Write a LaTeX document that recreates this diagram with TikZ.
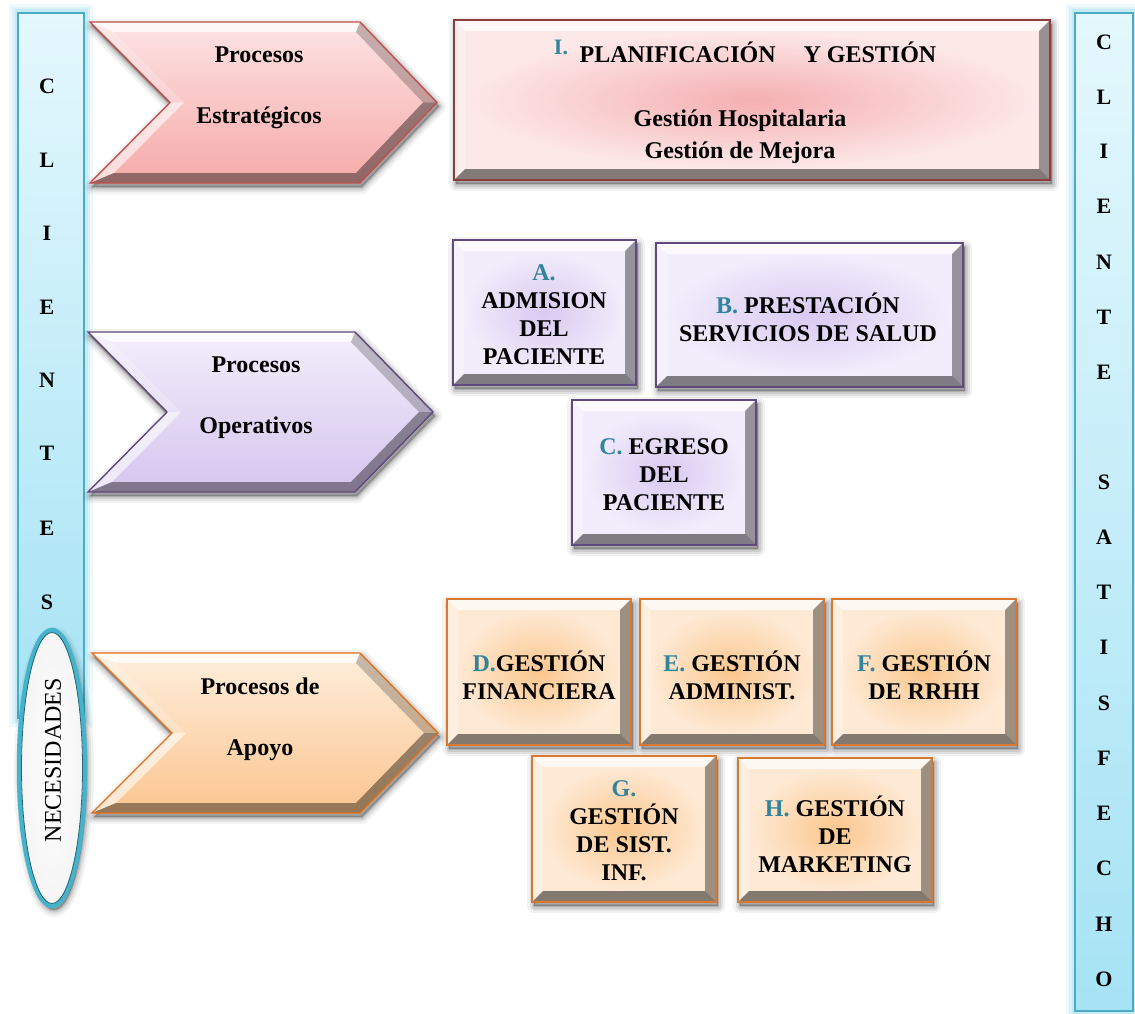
\documentclass[tikz,border=0pt]{standalone}
\usepackage{fontspec}
\setmainfont{Liberation Serif}

% palettes
\definecolor{pinkTop}{HTML}{FDE3E3}
\definecolor{pinkBot}{HTML}{F6AAAA}
\definecolor{pinkEdge}{HTML}{C0504D}
\definecolor{roseIn}{HTML}{F5AFB2}
\definecolor{roseOut}{HTML}{FDE8E8}
\definecolor{roseEdge}{HTML}{8E3B3B}
\definecolor{lilaTop}{HTML}{F3EEFB}
\definecolor{lilaBot}{HTML}{D5C5EE}
\definecolor{lilaEdge}{HTML}{5F497A}
\definecolor{violIn}{HTML}{D9C9F2}
\definecolor{violOut}{HTML}{F2EDFB}
\definecolor{violEdge}{HTML}{5E4A7E}
\definecolor{apriTop}{HTML}{FEEEDC}
\definecolor{apriBot}{HTML}{FBC58F}
\definecolor{apriEdge}{HTML}{E3701A}
\definecolor{peachIn}{HTML}{FBC78E}
\definecolor{peachOut}{HTML}{FEE9D4}
\definecolor{peachEdge}{HTML}{D9782E}
\definecolor{barTop}{HTML}{E4F8FD}
\definecolor{barBot}{HTML}{A6E3F5}
\definecolor{barEdge}{HTML}{4BACC6}
\definecolor{barGlow}{HTML}{7FD3EA}
\definecolor{ltrTeal}{HTML}{31849B}
\definecolor{ringDark}{HTML}{2A6474}

\newcommand\bx{\fontsize{24}{28}\selectfont\bfseries}
\newcommand\lt[1]{\textcolor{ltrTeal}{#1}}

% soft drop shadow: stacked translucent strokes under a shifted copy of the outline
\tikzset{
  shadowlayer/.style={black, line join=round, shift={(2,4)}},
}
\newcommand\softshadow[1]{%
  \foreach \w/\o in {14/0.05, 9/0.07, 5/0.09, 2/0.12}
    \draw[shadowlayer, line width=\w pt, opacity=\o] #1;
  \fill[shadowlayer, opacity=0.25] #1;
}

% beveled rectangle: x1 y1 x2 y2 palette
\newcommand\bevbox[5]{%
  \softshadow{(#1,#2) rectangle (#3,#4)}
  \fill[#5Out] (#1,#2) rectangle (#3,#4);
  \shade[inner color=#5In, outer color=#5Out] ({#1+11},{#2+11}) rectangle ({#3-11},{#4-11});
  \fill[white, opacity=.7] (#1,#2) -- (#3,#2) -- ({#3-11},{#2+11}) -- ({#1+11},{#2+11}) -- cycle;
  \fill[white, opacity=.3] (#1,#2) -- ({#1+11},{#2+11}) -- ({#1+11},{#4-11}) -- (#1,#4) -- cycle;
  \fill[black, opacity=.38] (#3,#2) -- (#3,#4) -- ({#3-11},{#4-11}) -- ({#3-11},{#2+11}) -- cycle;
  \fill[black, opacity=.48] (#1,#4) -- (#3,#4) -- ({#3-11},{#4-11}) -- ({#1+11},{#4-11}) -- cycle;
  \draw[#5Edge, line width=1.4pt] (#1,#2) rectangle (#3,#4);
}

% beveled chevron: left x, top y, shoulder x, tip x, bottom y, notch x, palette
\newcommand\chev[7]{%
  \pgfmathsetmacro\ym{(#2+#5)/2}
  \softshadow{(#1,#2) -- (#3,#2) -- (#4,\ym) -- (#3,#5) -- (#1,#5) -- (#6,\ym) -- cycle}
  \shade[top color=#7Top, bottom color=#7Bot]
    (#1,#2) -- (#3,#2) -- (#4,\ym) -- (#3,#5) -- (#1,#5) -- (#6,\ym) -- cycle;
  \fill[white, opacity=.75] (#1,#2) -- (#3,#2) -- ({#3-4},{#2+10}) -- ({#1+24},{#2+10}) -- cycle;
  \fill[white, opacity=.2] (#1,#2) -- ({#1+24},{#2+10}) -- ({#6+14},\ym) -- (#6,\ym) -- cycle;
  \fill[white, opacity=.6] (#6,\ym) -- ({#6+14},\ym) -- ({#1+24},{#5-10}) -- (#1,#5) -- cycle;
  \fill[black, opacity=.22] (#3,#2) -- (#4,\ym) -- ({#4-14},\ym) -- ({#3-4},{#2+10}) -- cycle;
  \fill[black, opacity=.4] (#4,\ym) -- (#3,#5) -- ({#3-4},{#5-10}) -- ({#4-14},\ym) -- cycle;
  \fill[black, opacity=.4] (#1,#5) -- (#3,#5) -- ({#3-4},{#5-10}) -- ({#1+24},{#5-10}) -- cycle;
  \draw[#7Edge, line width=1.4pt, line join=miter]
    (#1,#2) -- (#3,#2) -- (#4,\ym) -- (#3,#5) -- (#1,#5) -- (#6,\ym) -- cycle;
}

% glowing side bar: x1 y1 x2 y2
\newcommand\sidebar[4]{%
  \foreach \w/\o in {18/0.12, 12/0.16, 7/0.22}
    \draw[barGlow, line width=\w pt, opacity=\o] (#1,#2) rectangle (#3,#4);
  \shade[top color=barTop, bottom color=barBot] (#1,#2) rectangle (#3,#4);
  \draw[barEdge, line width=1.5pt] (#1,#2) rectangle (#3,#4);
}

\begin{document}
\begin{tikzpicture}[x=1pt, y=-1pt,
  txt/.style={inner sep=0pt, align=center, font=\bx, text=black},
  barletter/.style={inner sep=0pt, font=\fontsize{22}{24}\selectfont\bfseries},
  chevtxt/.style={inner sep=0pt, align=center, font=\fontsize{24}{61}\selectfont\bfseries}]

\fill[white] (0,0) rectangle (1135,1014);
\useasboundingbox (0,0) rectangle (1135,1014);

% side bars
\sidebar{18}{13}{84}{718}
\sidebar{1075}{13}{1133}{1011}

\foreach \ch/\yy [count=\i] in {C/86, L/160, I/233, E/307, N/380, T/453, E/528, S/602}
  \node[barletter] (left\i) at (47,\yy) {\ch};

\foreach \ch/\yy [count=\i] in {C/42, L/97, I/151, E/206, N/262, T/317, E/372,
    S/482, A/537, T/592, I/647, S/703, F/758, E/813, C/868, H/924, O/979}
  \node[barletter] (right\i) at (1104,\yy) {\ch};

% needs ellipse
\softshadow{(52,768) ellipse [x radius=33, y radius=138]}
\shade[inner color=white, outer color=gray!8]
  (52,768) ellipse [x radius=33, y radius=138];
\draw[barEdge!90!cyan, line width=4.5pt] (52,768) ellipse [x radius=33, y radius=138];
\draw[ringDark, line width=0.8pt] (52,768) ellipse [x radius=30.5, y radius=135.5];
\node[inner sep=0pt, rotate=90, font=\fontsize{24}{28}\selectfont] (needs) at (53,760) {NECESIDADES};

% process chevrons
\chev{90}{22}{360}{437}{183}{170}{pink}
\node[chevtxt] (strat) at (259,88) {Procesos\\Estratégicos};

\chev{88}{332}{355}{433}{492}{167}{lila}
\node[chevtxt] (oper) at (256,398) {Procesos\\Operativos};

\chev{92}{653}{360}{438}{813}{172}{apri}
\node[chevtxt] (apoyo) at (260,719) {Procesos de\\Apoyo};

% strategic block
\bevbox{454}{20}{1050}{180}{rose}
\node[inner sep=0pt, font=\fontsize{22}{24}\selectfont\bfseries, text=ltrTeal] (pI) at (561,47) {I.};
\node[txt] (plan) at (758,52) {PLANIFICACIÓN\hspace{28pt}Y GESTIÓN};
\node[txt, font=\fontsize{24}{32}\selectfont\bfseries] (gest) at (740,137) {Gestión Hospitalaria\\Gestión de Mejora};

% operative blocks
\bevbox{453}{240}{636}{385}{viol}
\node[txt] (adm) at (544,315) {\lt{A.}\\ADMISION\\DEL\\PACIENTE};

\bevbox{656}{243}{963}{387}{viol}
\node[txt] (prest) at (808,317) {\lt{B.} PRESTACIÓN\\SERVICIOS DE SALUD};

\bevbox{572}{400}{756}{545}{viol}
\node[txt] (egr) at (664,475) {\lt{C.} EGRESO\\DEL\\PACIENTE};

% support blocks
\bevbox{447}{599}{631}{745}{peach}
\node[txt] (fin) at (539,675) {\lt{D.}GESTIÓN\\FINANCIERA};

\bevbox{640}{599}{824}{745}{peach}
\node[txt] (adminst) at (732,675) {\lt{E.} GESTIÓN\\ADMINIST.};

\bevbox{832}{599}{1016}{745}{peach}
\node[txt] (rrhh) at (924,675) {\lt{F.} GESTIÓN\\DE RRHH};

\bevbox{532}{756}{716}{902}{peach}
\node[txt] (sist) at (624,831) {\lt{G.}\\GESTIÓN\\DE SIST.\\INF.};

\bevbox{738}{758}{932}{902}{peach}
\node[txt] (mkt) at (835,834) {\lt{H.} GESTIÓN\\DE\\MARKETING};

\end{tikzpicture}
\end{document}
